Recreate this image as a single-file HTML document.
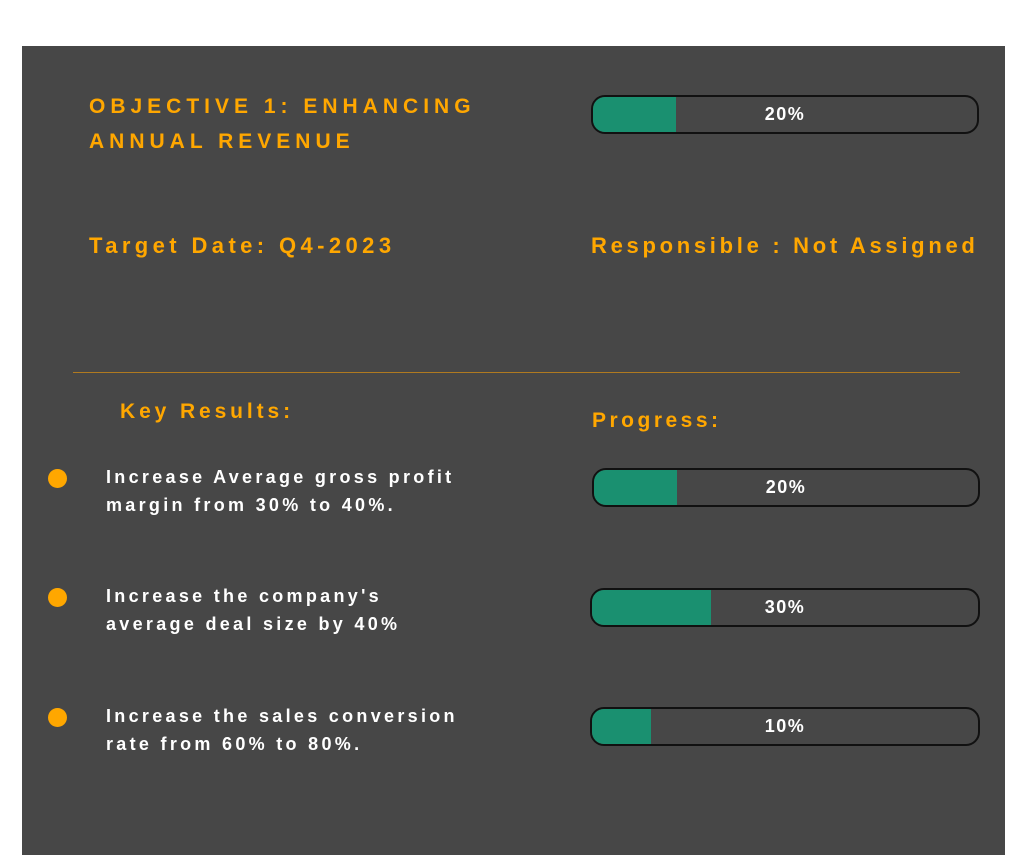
<!DOCTYPE html><html><head><style>
body{margin:0;width:1024px;height:855px;background:#fff;position:relative;overflow:hidden;font-family:"Liberation Sans",sans-serif;font-weight:bold}
.p{position:absolute;left:22px;top:46px;width:983px;height:809px;background:#474747}
.t{position:absolute;white-space:nowrap;color:#FFA700}
.bar{position:absolute;box-sizing:border-box;height:39px;border:2px solid #111;border-radius:14px;background:#474747;overflow:hidden}
.bar .f{position:absolute;left:0;top:0;bottom:0;background:#1A9070}
.bar span{position:absolute;left:0;right:0;top:0;line-height:35px;text-align:center;color:#fff;font-size:18px;letter-spacing:1.5px}
.dot{position:absolute;width:19px;height:19px;border-radius:50%;background:#FFA700}
.w{position:absolute;color:#fff;font-size:18px;letter-spacing:3.3px;line-height:28px;white-space:nowrap}
</style></head><body><div class="p"></div>
<div class="t" style="left:89px;top:89px;font-size:21px;letter-spacing:5px;line-height:35px">OBJECTIVE 1: ENHANCING<br>ANNUAL REVENUE</div>
<div class="bar" style="left:591px;top:95px;width:388px"><div class="f" style="width:83px"></div><span>20%</span></div>
<div class="t" style="left:89px;top:232px;font-size:22px;letter-spacing:4.4px;line-height:28px">Target Date: Q4-2023</div>
<div class="t" style="left:591px;top:232px;font-size:22px;letter-spacing:3.7px;line-height:28px">Responsible : Not Assigned</div>
<div style="position:absolute;left:73px;top:372px;width:887px;height:1px;background:#B07A20"></div>
<div class="t" style="left:120px;top:398px;font-size:21px;letter-spacing:3.9px;line-height:28px">Key Results:</div>
<div class="t" style="left:592px;top:407px;font-size:21px;letter-spacing:3.5px;line-height:28px">Progress:</div>
<div class="dot" style="left:48px;top:469px"></div>
<div class="w" style="left:106px;top:463px">Increase Average gross profit<br>margin from 30% to 40%.</div>
<div class="bar" style="left:592px;top:468px;width:388px"><div class="f" style="width:83px"></div><span>20%</span></div>
<div class="dot" style="left:48px;top:588px"></div>
<div class="w" style="left:106px;top:582px">Increase the company's<br>average deal size by 40%</div>
<div class="bar" style="left:590px;top:588px;width:390px"><div class="f" style="width:119px"></div><span>30%</span></div>
<div class="dot" style="left:48px;top:708px"></div>
<div class="w" style="left:106px;top:702px">Increase the sales conversion<br>rate from 60% to 80%.</div>
<div class="bar" style="left:590px;top:707px;width:390px"><div class="f" style="width:59px"></div><span>10%</span></div>
</body></html>
